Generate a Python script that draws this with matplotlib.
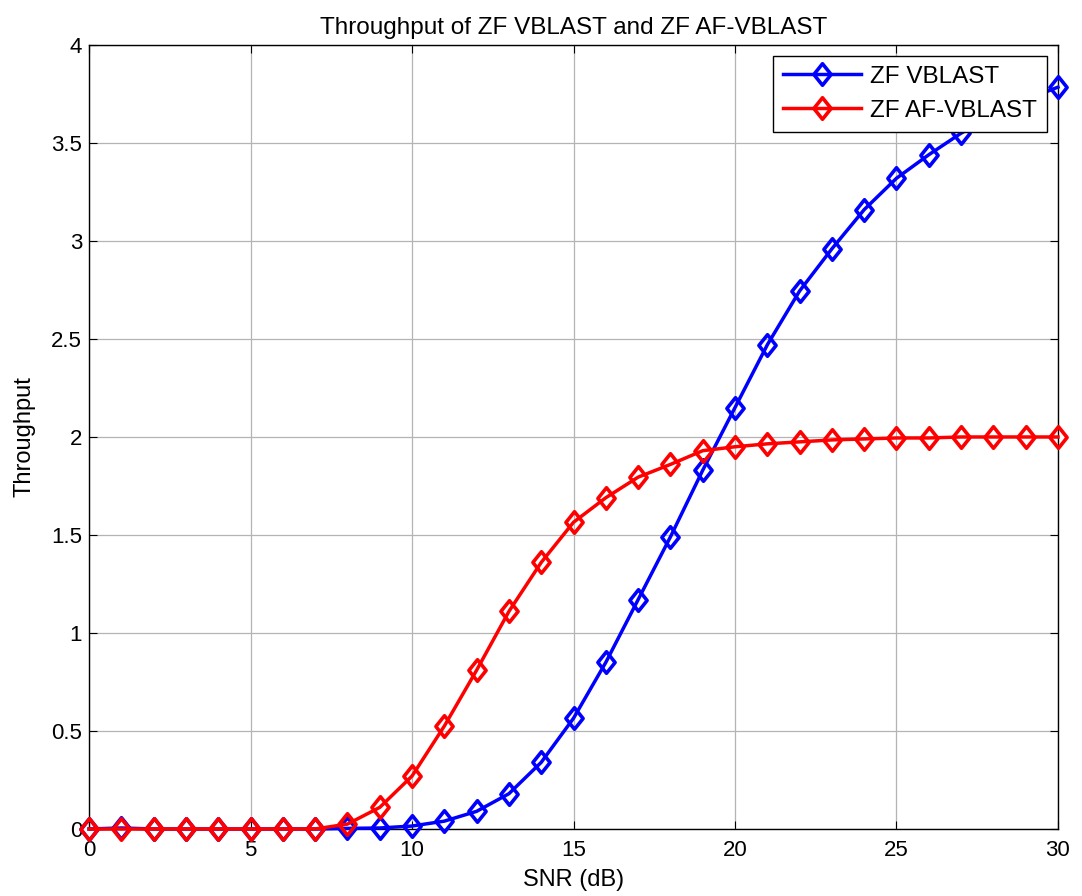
import matplotlib
matplotlib.use("Agg")
import matplotlib.pyplot as plt
from matplotlib.path import Path

snr = list(range(0, 31))
zf_vblast = [0, 0.005, 0, 0, 0, 0, 0, 0, 0.003, 0.005, 0.015, 0.04, 0.09, 0.18, 0.34,
             0.565, 0.85, 1.17, 1.49, 1.83, 2.15, 2.47, 2.745, 2.96, 3.16, 3.32, 3.44,
             3.55, 3.64, 3.72, 3.785]
zf_af_vblast = [0, 0, 0, 0, 0, 0, 0, 0, 0.025, 0.11, 0.27, 0.525, 0.81, 1.11, 1.36,
                1.565, 1.69, 1.795, 1.86, 1.93, 1.95, 1.965, 1.975, 1.985, 1.99, 1.995,
                1.995, 2.0, 2.0, 2.0, 2.0]
xticks = [0, 5, 10, 15, 20, 25, 30]
yticks = [0, 0.5, 1, 1.5, 2, 2.5, 3, 3.5, 4]
ytick_labels = ['0', '0.5', '1', '1.5', '2', '2.5', '3', '3.5', '4']

plt.rcParams['font.family'] = ['Liberation Sans', 'DejaVu Sans']

diamond = Path([(0, 1), (0.8, 0), (0, -1), (-0.8, 0), (0, 1)],
               [Path.MOVETO, Path.LINETO, Path.LINETO, Path.LINETO, Path.CLOSEPOLY])

fig = plt.figure(figsize=(10.82, 8.96), dpi=100)
ax = fig.add_axes([0.0823, 0.0748, 0.8955, 0.875])

ax.plot(snr, zf_vblast, color='#0000ff', lw=2.5, marker=diamond, ms=15.5, mfc='none',
        mew=2.6, label='ZF VBLAST', clip_on=False, zorder=3)
ax.plot(snr, zf_af_vblast, color='#ff0000', lw=2.5, marker=diamond, ms=15.5, mfc='none',
        mew=2.6, label='ZF AF-VBLAST', clip_on=False, zorder=4)

ax.set_xlim(0, 30)
ax.set_ylim(0, 4)
ax.set_xticks(xticks)
ax.set_yticks(yticks)
ax.set_yticklabels(ytick_labels)
ax.grid(True, color='#b4b4b4', lw=0.9)
ax.set_axisbelow(True)
ax.tick_params(direction='in', top=True, right=True, labelsize=16, length=6)
ax.tick_params(axis='x', pad=8)
ax.tick_params(axis='y', pad=5)
for s in ax.spines.values():
    s.set_linewidth(1.0)

ax.set_xlabel('SNR (dB)', fontsize=17, labelpad=6)
ax.set_ylabel('Throughput', fontsize=17, labelpad=11)
ax.set_title('Throughput of ZF VBLAST and ZF AF-VBLAST', fontsize=17.5, pad=8)

leg = ax.legend(loc='upper right', fontsize=17.5, fancybox=False, framealpha=1,
                edgecolor='black', borderaxespad=0.45, handlelength=3.2,
                handletextpad=0.4, borderpad=0.4, labelspacing=0.5)
leg.get_frame().set_linewidth(1.0)
leg.set_zorder(10)

fig.savefig('out.png', dpi=100)
